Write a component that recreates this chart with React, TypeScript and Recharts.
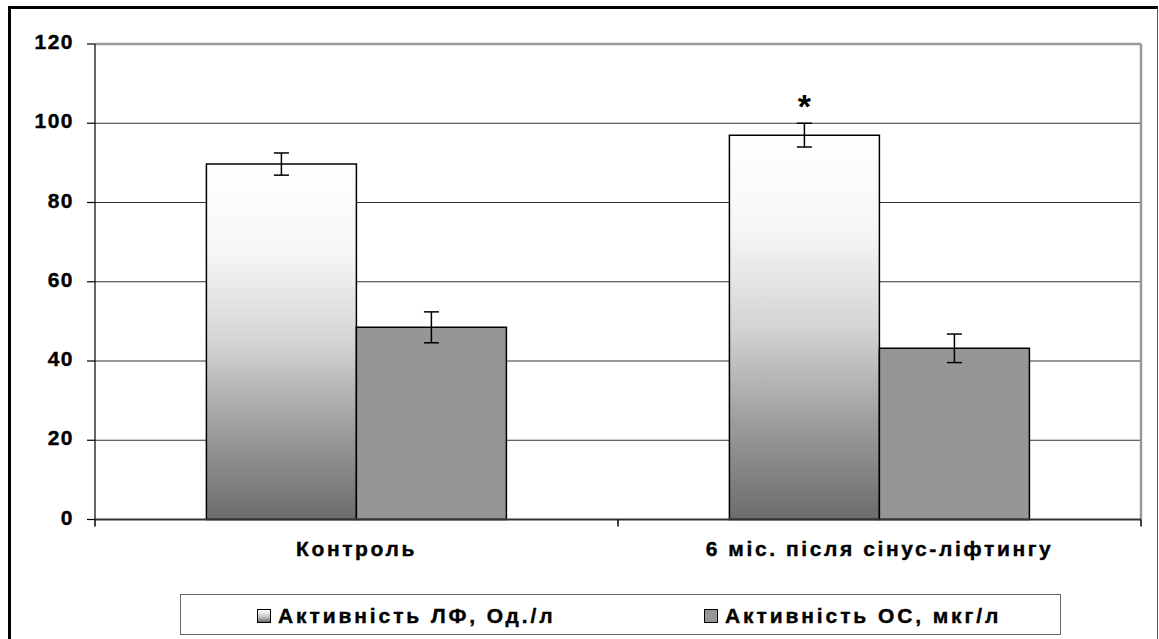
import React from 'react';
import { BarChart, Bar, XAxis, YAxis, CartesianGrid, ErrorBar, LabelList } from 'recharts';

const categories = ['Контроль', '6 міс. після сінус-ліфтингу'];
const lfValues = [89.7, 97.0];
const lfErrors = [2.8, 3.0];
const ocValues = [48.5, 43.2];
const ocErrors = [3.9, 3.6];
const significance = ['', '*'];
const yTicks = [0, 20, 40, 60, 80, 100, 120];
const seriesNames = ['Активність ЛФ, Од./л', 'Активність ОС, мкг/л'];

const data = categories.map((c, i) => ({
  category: c,
  lf: lfValues[i],
  lfErr: lfErrors[i],
  oc: ocValues[i],
  ocErr: ocErrors[i],
  sig: significance[i],
}));

const FONT = '"Liberation Sans", Arial, sans-serif';

const XTick = (props: any) => {
  const { x, y, payload, index, visibleTicksCount, width } = props;
  const half = payload && payload.offset ? payload.offset : width / (2 * categories.length);
  return (
    <g>
      <line x1={x - half} x2={x - half} y1={y - 7} y2={y} stroke="#000" strokeWidth={1.5} />
      {index === visibleTicksCount - 1 && (
        <line x1={x + half} x2={x + half} y1={y - 7} y2={y} stroke="#000" strokeWidth={1.5} />
      )}
      <text
        x={x}
        y={y + 29}
        textAnchor="middle"
        fontFamily={FONT}
        fontWeight="bold"
        fontSize={21}
        letterSpacing={2.6}
        fill="#000"
        stroke="#000"
        strokeWidth={0.4}
      >
        {payload.value}
      </text>
    </g>
  );
};

const YTick = (props: any) => {
  const { x, y, payload } = props;
  return (
    <text
      x={x}
      y={y + 5}
      textAnchor="end"
      fontFamily={FONT}
      fontWeight="bold"
      fontSize={21}
      letterSpacing={1.5}
      fill="#000"
      stroke="#000"
      strokeWidth={0.4}
    >
      {payload.value}
    </text>
  );
};

const SigLabel = (props: any) => {
  const { x, y, width, value } = props;
  if (!value) return null;
  return (
    <text
      x={x + width / 2}
      y={y - 17}
      textAnchor="middle"
      fontFamily={FONT}
      fontWeight="bold"
      fontSize={34}
      fill="#000"
    >
      {value}
    </text>
  );
};

export default function App() {
  return (
    <div
      style={{
        position: 'absolute',
        left: 0,
        top: 0,
        width: 1159,
        height: 639,
        background: '#fff',
        overflow: 'hidden',
        fontFamily: FONT,
      }}
    >
      <div
        style={{
          position: 'absolute',
          left: 8,
          top: 6,
          width: 1146,
          height: 700,
          borderLeft: '3px solid #000',
          borderTop: '3px solid #000',
          borderRight: '1.5px solid #555',
        }}
      />
      <div style={{ position: 'absolute', left: 0, top: 0 }}>
        <BarChart
          width={1159}
          height={639}
          data={data}
          margin={{ top: 44, right: 18, bottom: 69.5, left: 35 }}
          barCategoryGap="21.3%"
          barGap={0}
        >
          <defs>
            <linearGradient id="lfGrad" x1="0" y1="0" x2="0" y2="1">
              <stop offset="0%" stopColor="#ffffff" />
              <stop offset="25%" stopColor="#f6f6f6" />
              <stop offset="50%" stopColor="#d4d4d4" />
              <stop offset="75%" stopColor="#9c9c9c" />
              <stop offset="100%" stopColor="#6c6c6c" />
            </linearGradient>
          </defs>
          <CartesianGrid vertical={false} stroke="#333" strokeWidth={1} />
          <CartesianGrid
            horizontalCoordinatesGenerator={(p: any) => [p.offset.top]}
            verticalCoordinatesGenerator={(p: any) => [p.offset.left + p.offset.width]}
            stroke="#999"
            strokeWidth={2.5}
          />
          <XAxis
            dataKey="category"
            height={50}
            tickSize={7}
            tickMargin={0}
            tickLine={false}
            axisLine={{ stroke: '#333', strokeWidth: 2 }}
            tick={<XTick />}
            interval={0}
          />
          <YAxis
            width={60}
            domain={[0, 120]}
            ticks={yTicks}
            interval={0}
            tickSize={8}
            tickMargin={13}
            tickLine={{ stroke: '#000', strokeWidth: 1.2 }}
            axisLine={{ stroke: '#000', strokeWidth: 1.2 }}
            tick={<YTick />}
          />
          <Bar
            dataKey="lf"
            name={seriesNames[0]}
            fill="url(#lfGrad)"
            stroke="#000"
            strokeWidth={1.5}
            isAnimationActive={false}
          >
            <ErrorBar dataKey="lfErr" width={7.5} stroke="#000" strokeWidth={1.5} direction="y" />
            <LabelList dataKey="sig" content={<SigLabel />} />
          </Bar>
          <Bar
            dataKey="oc"
            name={seriesNames[1]}
            fill="#969696"
            stroke="#000"
            strokeWidth={1.5}
            isAnimationActive={false}
          >
            <ErrorBar dataKey="ocErr" width={7.5} stroke="#000" strokeWidth={1.5} direction="y" />
          </Bar>
        </BarChart>
      </div>
      <div
        style={{
          position: 'absolute',
          left: 180,
          top: 594,
          width: 879,
          height: 39,
          border: '1.5px solid #666',
          background: '#fff',
        }}
      >
        {seriesNames.map((name, i) => (
          <div
            key={name}
            style={{
              position: 'absolute',
              left: i === 0 ? 76 : 523,
              top: 11,
              display: 'flex',
              alignItems: 'center',
              height: 20,
            }}
          >
            <div
              style={{
                width: 12,
                height: 12,
                border: '1.5px solid #000',
                background: i === 0 ? 'linear-gradient(#ffffff, #d0d0d0 50%, #6c6c6c)' : '#969696',
                marginRight: 7,
              }}
            />
            <span
              style={{
                fontFamily: FONT,
                fontWeight: 'bold',
                fontSize: 21,
                letterSpacing: 2.9,
                color: '#000',
                lineHeight: '20px',
                whiteSpace: 'nowrap',
                WebkitTextStroke: '0.4px #000',
              }}
            >
              {name}
            </span>
          </div>
        ))}
      </div>
    </div>
  );
}
